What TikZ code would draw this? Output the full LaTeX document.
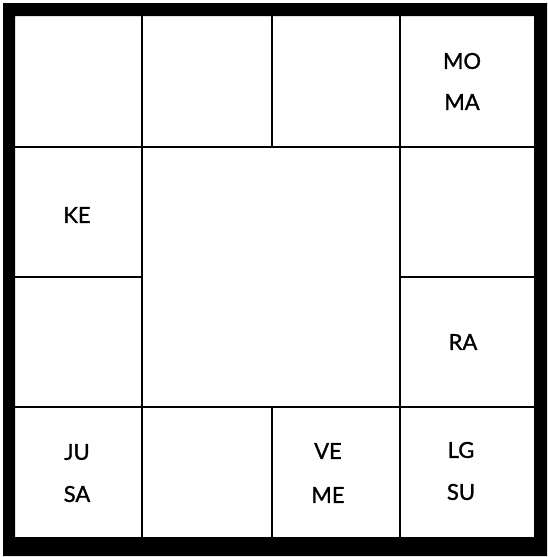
\documentclass[tikz,border=0pt]{standalone}
\usepackage{fontspec}
\setmainfont{Lato}
\newfontfamily\planetfont[BoldFont=Lato,BoldFeatures={FakeBold=1.2}]{Lato}
\usepackage{tikz}

\begin{document}
\begin{tikzpicture}[x=1pt,y=-1pt,
    cell/.style={line width=1.6pt},
    planet/.style={font=\planetfont\bfseries\fontsize{22}{22}\selectfont, inner sep=0pt}]
            \useasboundingbox (0,0) rectangle (547,557);
            \fill[black,even odd rule] (3,3) rectangle (547,556) (15,16) rectangle (534,537);
            \draw[cell] (142,16) -- (142,537);
            \draw[cell] (400,16) -- (400,537);
            \draw[cell] (272,16) -- (272,147);
            \draw[cell] (272,407) -- (272,537);
            \draw[cell] (15,147) -- (534,147);
            \draw[cell] (15,407) -- (534,407);
            \draw[cell] (15,277) -- (142,277);
            \draw[cell] (400,277) -- (534,277);
            \node[planet] (mo) at (462,61) {MO};
            \node[planet] (ma) at (462,102) {MA};
            \node[planet] (ke) at (77,215) {KE};
            \node[planet] (ra) at (463,342) {RA};
            \node[planet] (ju) at (77,452) {JU};
            \node[planet] (sa) at (77,494) {SA};
            \node[planet] (ve) at (328,451) {VE};
            \node[planet] (me) at (328,495) {ME};
            \node[planet] (lg) at (461,450) {LG};
            \node[planet] (su) at (461,492) {SU};
        \end{tikzpicture}
\end{document}
